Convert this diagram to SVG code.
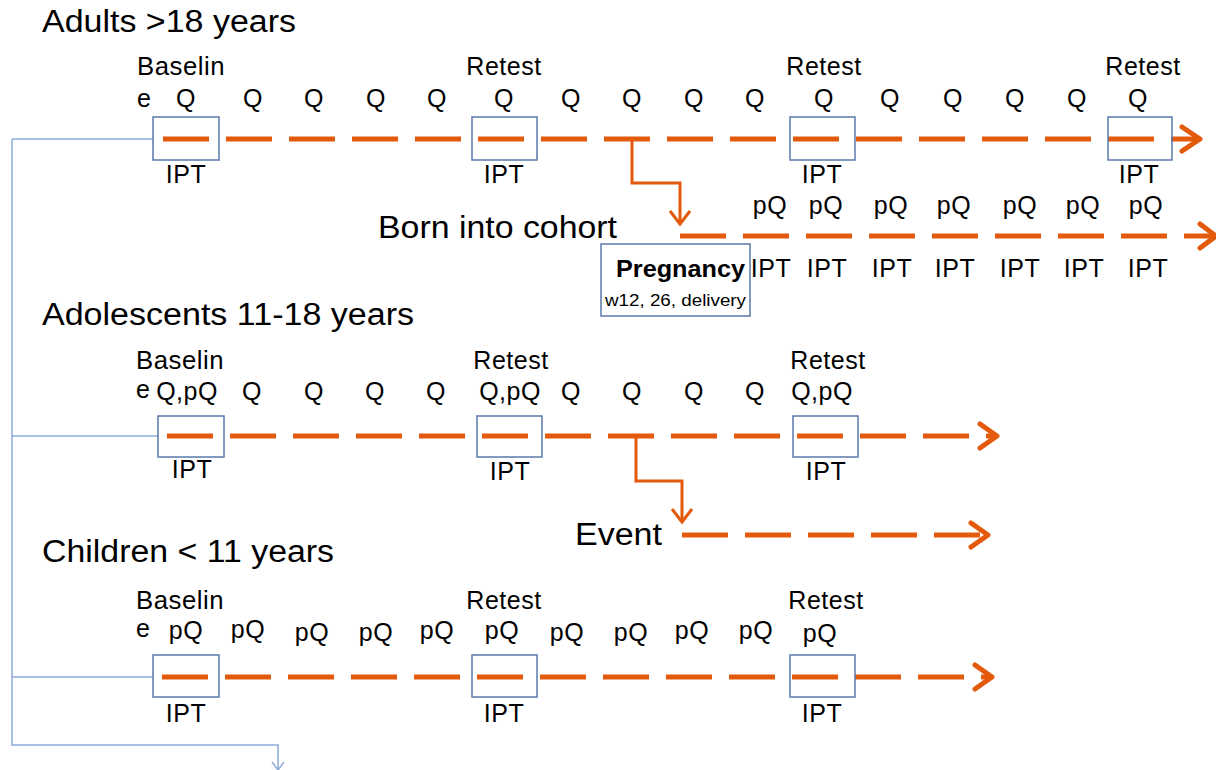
<svg xmlns="http://www.w3.org/2000/svg" width="1216" height="770" viewBox="0 0 1216 770">
<style>
text{font-family:"Liberation Sans",Arial,sans-serif;fill:#000}
.t{font-size:31px}
.l{font-size:25px;letter-spacing:0.5px}
.m{text-anchor:middle}
.box{fill:none;stroke:#5a79ac;stroke-width:1.5}
.dash{fill:none;stroke:#e35a0c;stroke-width:5;stroke-dasharray:46 17}
.solid{fill:none;stroke:#e35a0c;stroke-width:3}
.head{fill:none;stroke:#e35a0c;stroke-width:5;stroke-linecap:round;stroke-linejoin:round}
.blue{fill:none;stroke:#8eaadb;stroke-width:1.5}
</style>
<rect width="1216" height="770" fill="#fff"/>

<g id="connectors">
  <path class="blue" d="M12,139 V745 H278 V770 M12,139 H153 M12,436 H158 M12,677 H153"/>
  <path class="blue" d="M272,762 L278,770 L284,762"/>
  <line class="dash" x1="163" y1="139" x2="1196" y2="139"/>
  <path class="head" d="M1182,127 L1200,139 L1182,151"/>
  <polyline class="solid" points="632,139 632,183 680,183 680,222"/>
  <path class="solid" d="M670,211 L680,224 L690,211"/>
  <line class="dash" x1="680" y1="236" x2="1212" y2="236"/>
  <path class="head" d="M1200,224 L1216,236 L1200,248"/>
  <line class="dash" x1="167" y1="436" x2="994" y2="436"/>
  <path class="head" d="M980,424 L997,436 L980,448"/>
  <polyline class="solid" points="636,436 636,481 682,481 682,520"/>
  <path class="solid" d="M672,509 L682,522 L692,509"/>
  <line class="dash" x1="682" y1="535" x2="985" y2="535"/>
  <path class="head" d="M971,523 L988,535 L971,547"/>
  <line class="dash" x1="162" y1="677" x2="989" y2="677"/>
  <path class="head" d="M975,665 L992,677 L975,689"/>
</g>

<g id="adults">
  <text class="t" x="42" y="32" textLength="254" lengthAdjust="spacingAndGlyphs">Adults &gt;18 years</text>
  <text class="l" x="137" y="75" textLength="88" lengthAdjust="spacingAndGlyphs">Baselin</text>
  <text class="l m" x="504" y="75">Retest</text>
  <text class="l m" x="824" y="75">Retest</text>
  <text class="l m" x="1143" y="75">Retest</text>
  <text class="l" x="137" y="107">e</text>
  <g class="l m">
    <text class="l m" x="186" y="107">Q</text><text class="l m" x="253" y="107">Q</text><text class="l m" x="314" y="107">Q</text><text class="l m" x="376" y="107">Q</text><text class="l m" x="437" y="107">Q</text><text class="l m" x="504" y="107">Q</text><text class="l m" x="571" y="107">Q</text><text class="l m" x="632" y="107">Q</text><text class="l m" x="694" y="107">Q</text><text class="l m" x="755" y="107">Q</text><text class="l m" x="824" y="107">Q</text><text class="l m" x="890" y="107">Q</text><text class="l m" x="953" y="107">Q</text><text class="l m" x="1015" y="107">Q</text><text class="l m" x="1077" y="107">Q</text><text class="l m" x="1138" y="107">Q</text>
  </g>
  <rect class="box" x="153" y="117" width="66" height="43"/>
  <rect class="box" x="472" y="117" width="65" height="43"/>
  <rect class="box" x="790" y="117" width="65" height="43"/>
  <rect class="box" x="1108" y="117" width="64" height="43"/>
  <text class="l m" x="186" y="183">IPT</text>
  <text class="l m" x="504" y="183">IPT</text>
  <text class="l m" x="822" y="183">IPT</text>
  <text class="l m" x="1139" y="183">IPT</text>
</g>

<g id="born">
  <text class="t" x="378" y="238" textLength="239" lengthAdjust="spacingAndGlyphs">Born into cohort</text>
  <text class="l m" x="770" y="214">pQ</text><text class="l m" x="826" y="214">pQ</text><text class="l m" x="891" y="214">pQ</text><text class="l m" x="954" y="214">pQ</text><text class="l m" x="1020" y="214">pQ</text><text class="l m" x="1083" y="214">pQ</text><text class="l m" x="1146" y="214">pQ</text>
  <text class="l m" x="771" y="277">IPT</text><text class="l m" x="827" y="277">IPT</text><text class="l m" x="892" y="277">IPT</text><text class="l m" x="955" y="277">IPT</text><text class="l m" x="1020" y="277">IPT</text><text class="l m" x="1084" y="277">IPT</text><text class="l m" x="1148" y="277">IPT</text>
</g>

<g id="pregnancy">
  <rect class="box" x="601" y="244" width="149" height="72"/>
  <text x="616" y="277" style="font-size:23px;font-weight:bold" textLength="129" lengthAdjust="spacingAndGlyphs">Pregnancy</text>
  <text x="605" y="306" style="font-size:16px" textLength="141" lengthAdjust="spacingAndGlyphs">w12, 26, delivery</text>
</g>

<g id="adolescents">
  <text class="t" x="42" y="325" textLength="372" lengthAdjust="spacingAndGlyphs">Adolescents 11-18 years</text>
  <text class="l" x="136" y="369" textLength="88" lengthAdjust="spacingAndGlyphs">Baselin</text>
  <text class="l m" x="511" y="369">Retest</text>
  <text class="l m" x="828" y="369">Retest</text>
  <text class="l" x="136" y="398">e</text>
  <text class="l m" x="187" y="400">Q,pQ</text><text class="l m" x="252" y="400">Q</text><text class="l m" x="314" y="400">Q</text><text class="l m" x="375" y="400">Q</text><text class="l m" x="436" y="400">Q</text><text class="l m" x="510" y="400">Q,pQ</text><text class="l m" x="571" y="400">Q</text><text class="l m" x="632" y="400">Q</text><text class="l m" x="694" y="400">Q</text><text class="l m" x="755" y="400">Q</text><text class="l m" x="822" y="400">Q,pQ</text>
  <rect class="box" x="158" y="416" width="66" height="41"/>
  <rect class="box" x="477" y="416" width="65" height="41"/>
  <rect class="box" x="793" y="416" width="65" height="41"/>
  <text class="l m" x="192" y="478">IPT</text>
  <text class="l m" x="510" y="480">IPT</text>
  <text class="l m" x="826" y="480">IPT</text>
</g>

<g id="event">
  <text class="t" x="575" y="545" textLength="87" lengthAdjust="spacingAndGlyphs">Event</text>
</g>

<g id="children">
  <text class="t" x="42" y="562" textLength="292" lengthAdjust="spacingAndGlyphs">Children &lt; 11 years</text>
  <text class="l" x="136" y="609" textLength="88" lengthAdjust="spacingAndGlyphs">Baselin</text>
  <text class="l m" x="504" y="609">Retest</text>
  <text class="l m" x="826" y="609">Retest</text>
  <text class="l" x="136" y="637">e</text>
  <text class="l m" x="186" y="639">pQ</text><text class="l m" x="248" y="638">pQ</text><text class="l m" x="312" y="641">pQ</text><text class="l m" x="376" y="641">pQ</text><text class="l m" x="437" y="639">pQ</text><text class="l m" x="502" y="639">pQ</text><text class="l m" x="567" y="641">pQ</text><text class="l m" x="631" y="641">pQ</text><text class="l m" x="692" y="639">pQ</text><text class="l m" x="756" y="639">pQ</text><text class="l m" x="820" y="642">pQ</text>
  <rect class="box" x="153" y="655" width="66" height="42"/>
  <rect class="box" x="472" y="655" width="65" height="42"/>
  <rect class="box" x="790" y="655" width="65" height="42"/>
  <text class="l m" x="186" y="722">IPT</text>
  <text class="l m" x="504" y="722">IPT</text>
  <text class="l m" x="822" y="722">IPT</text>
</g>
</svg>
